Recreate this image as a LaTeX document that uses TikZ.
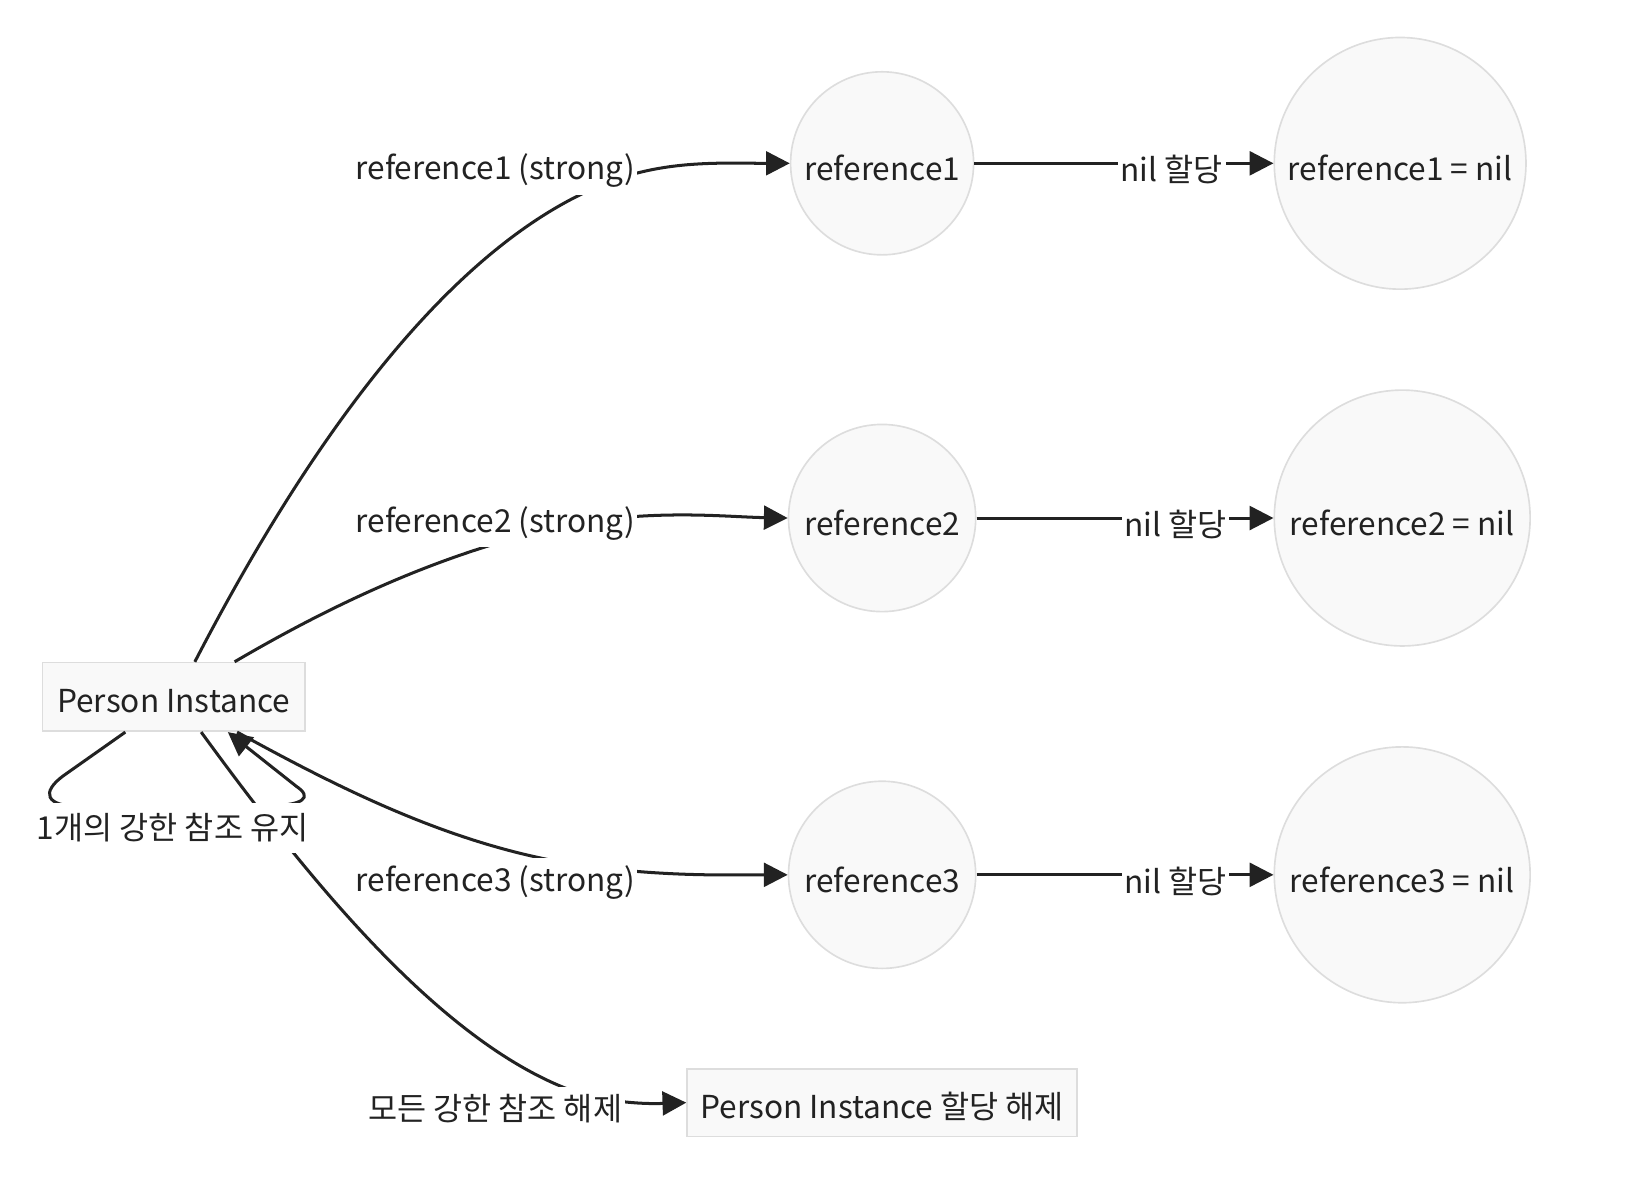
\documentclass[tikz,border=0pt]{standalone}
\usepackage{fontspec}
\setmainfont{Noto Sans CJK KR}
\usetikzlibrary{arrows.meta}
\definecolor{ink}{HTML}{222222}
\definecolor{nodefill}{HTML}{F9F9F9}
\definecolor{nodeline}{HTML}{DDDDDD}

\begin{document}
\begin{tikzpicture}[x = 0.02cm, y = -0.02cm,
        every node/.style = {font = \fontsize{17.3}{21}\selectfont, text = ink},
        refnode/.style = {circle, draw = nodeline, fill = nodefill, line width = 0.9pt, inner sep = 0pt,
            text height = 19pt, text depth = 0pt},
        boxnode/.style = {rectangle, draw = nodeline, fill = nodefill, line width = 0.9pt,
            text height = 17pt, text depth = 0pt},
        lbl/.style = {fill = white, inner xsep = 1.5pt, inner ysep = 4pt},
        arr/.style = {draw = ink, line width = 1.65pt, -{Triangle[length = 13pt, width = 13pt]}}]
        \useasboundingbox (0, 0) rectangle (1567, 1140);
        \node[boxnode, minimum width = 5.04cm, minimum height = 1.32cm] (person) at (167, 670) {Person Instance};
        \node[refnode, minimum size = 3.52cm] (ref1) at (848, 157) {reference1};
        \node[refnode, minimum size = 3.6cm] (ref2) at (848, 498) {reference2};
        \node[refnode, minimum size = 3.6cm] (ref3) at (848, 841) {reference3};
        \node[refnode, minimum size = 4.84cm] (nil1) at (1346, 157) {reference1 = nil};
        \node[refnode, minimum size = 4.92cm] (nil2) at (1348, 498) {reference2 = nil};
        \node[refnode, minimum size = 4.92cm] (nil3) at (1348, 841) {reference3 = nil};
        \node[boxnode, minimum width = 7.5cm, minimum height = 1.3cm] (dealloc) at (848, 1060) {Person Instance 할당 해제};

        % strong references
        \draw[arr] (person.59) .. controls (320, 380) and (460, 215) .. (600, 170)
            .. controls (650, 154) and (700, 157) .. (ref1.west);
        \draw[arr] (person.30) .. controls (330, 575) and (440, 525) .. (560, 502)
            .. controls (640, 490) and (700, 497) .. (ref2.west);
        \draw[arr] (person.-29) .. controls (330, 760) and (440, 815) .. (560, 832)
            .. controls (640, 843) and (700, 841) .. (ref3.west);

        % self loop and release
        \draw[arr] (person.-144) -- (62, 745) .. controls (38, 762) and (45, 775) .. (75, 775)
            -- (250, 775) .. controls (295, 775) and (300, 766) .. (285, 756) -- (person.-33);
        \draw[arr] (person.-52) .. controls (300, 850) and (430, 1010) .. (560, 1052)
            .. controls (600, 1062) and (630, 1061) .. (dealloc.west);

        \node[lbl] (strong1) at (476, 164) {reference1 (strong)};
        \node[lbl] (strong2) at (476, 503) {reference2 (strong)};
        \node[lbl] (strong3) at (476, 848) {reference3 (strong)};
        \node[lbl, inner ysep = 6pt] (keep) at (166, 796) {1개의 강한 참조 유지};
        \node[lbl] (release) at (476, 1066) {모든 강한 참조 해제};

        % nil
        \draw[arr] (ref1) -- node[lbl, pos = 0.66, yshift = -3.5pt] (setnil1) {nil 할당} (nil1);
        \draw[arr] (ref2) -- node[lbl, pos = 0.67, yshift = -3.5pt] (setnil2) {nil 할당} (nil2);
        \draw[arr] (ref3) -- node[lbl, pos = 0.67, yshift = -3.5pt] (setnil3) {nil 할당} (nil3);
    \end{tikzpicture}
\end{document}
